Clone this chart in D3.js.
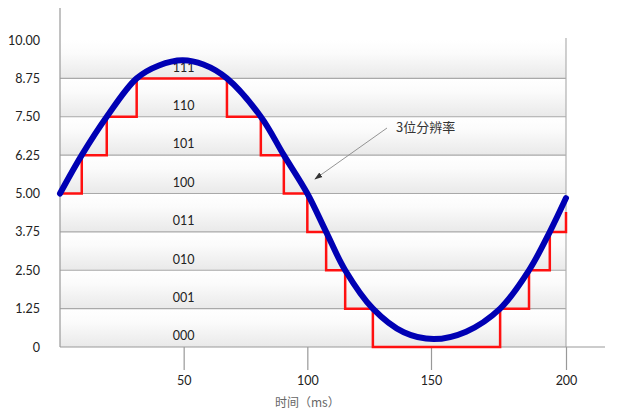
<!DOCTYPE html>
<html>
<head>
<meta charset="utf-8">
<script src="https://cdn.jsdelivr.net/npm/d3@7"></script>
<style>
  body { margin: 0; background: #fff; }
  svg { display: block; }
</style>
</head>
<body>
<svg id="chart" width="617" height="415"></svg>
<script>
// levels of the 3-bit quantizer
const levels = [0, 1.25, 2.5, 3.75, 5, 6.25, 7.5, 8.75, 10];
const yTickLabels = ["0", "1.25", "2.50", "3.75", "5.00", "6.25", "7.50", "8.75", "10.00"];
const codes = ["000", "001", "010", "011", "100", "101", "110", "111"];
const xTicks = [50, 100, 150, 200];

// analog signal (time ms, value)
const signalT = [0, 8.8, 18.9, 31, 40, 49.5, 58, 67.5, 81.2, 90.5, 100, 107.6, 115.3, 126.5, 139, 151, 163, 175.6, 186.3, 194, 200];
const signalV = [5.0, 6.25, 7.5, 8.75, 9.17, 9.34, 9.2, 8.75, 7.5, 6.25, 5.0, 3.75, 2.5, 1.25, 0.48, 0.26, 0.5, 1.25, 2.5, 3.75, 4.85];

// quantized output, step after each time
const stepT = [0, 8.8, 18.9, 31, 67.5, 81.2, 90.5, 100, 107.6, 115.3, 126.5, 175.6, 186.3, 194, 200];
const stepV = [5.0, 6.25, 7.5, 8.75, 7.5, 6.25, 5.0, 3.75, 2.5, 1.25, 0, 1.25, 2.5, 3.75, 4.4];

const svg = d3.select("#chart");
const font = "Lato, 'Open Sans', sans-serif";
const cjk = "'Noto Sans CJK SC', sans-serif";

const x = d3.scaleLinear().domain([0, 150, 200]).range([60, 431, 566]);
const y = d3.scaleLinear().domain([0, 10]).range([347, 40]);

// gradient for the bands
const defs = svg.append("defs");
const grad = defs.append("linearGradient")
  .attr("id", "band").attr("x1", 0).attr("y1", 0).attr("x2", 0).attr("y2", 1);
grad.append("stop").attr("offset", "0%").attr("stop-color", "#ffffff");
grad.append("stop").attr("offset", "35%").attr("stop-color", "#fbfbfb");
grad.append("stop").attr("offset", "100%").attr("stop-color", "#e9e9e9");

// bands
svg.append("g").selectAll("rect")
  .data(d3.range(levels.length - 1))
  .join("rect")
  .attr("x", x(0))
  .attr("width", x(200) - x(0))
  .attr("y", i => y(levels[i + 1]))
  .attr("height", i => y(levels[i]) - y(levels[i + 1]))
  .attr("fill", "url(#band)");

// gridlines
svg.append("g").selectAll("line")
  .data(levels.slice(1, -1))
  .join("line")
  .attr("x1", x(0)).attr("x2", x(200))
  .attr("y1", d => y(d)).attr("y2", d => y(d))
  .attr("stroke", "#a9a9a9").attr("stroke-width", 1.2);

// right border
svg.append("line")
  .attr("x1", x(200)).attr("x2", x(200))
  .attr("y1", y(10) - 2).attr("y2", y(0))
  .attr("stroke", "#b0b0b0").attr("stroke-width", 1.2);

// y axis
const yAxis = svg.append("g")
  .attr("transform", `translate(${x(0)},0)`)
  .call(d3.axisLeft(y).tickValues(levels).tickSize(0).tickPadding(20)
    .tickFormat((d, i) => yTickLabels[i]));
yAxis.select(".domain").remove();
yAxis.selectAll("text").attr("font-family", font).attr("font-size", 12.5).attr("fill", "#222");
svg.append("line")
  .attr("x1", x(0)).attr("x2", x(0)).attr("y1", 8).attr("y2", y(0))
  .attr("stroke", "#999").attr("stroke-width", 1.2);

// x axis
const xAxis = svg.append("g")
  .attr("transform", `translate(0,${y(0)})`)
  .call(d3.axisBottom(x).tickValues(xTicks).tickSize(23).tickPadding(6));
xAxis.select(".domain").remove();
xAxis.selectAll("line").attr("stroke", "#999").attr("stroke-width", 1.2);
xAxis.selectAll("text").attr("font-family", font).attr("font-size", 12.5).attr("fill", "#222");
svg.append("line")
  .attr("x1", x(0)).attr("x2", 605).attr("y1", y(0)).attr("y2", y(0))
  .attr("stroke", "#999").attr("stroke-width", 1.2);

svg.append("text")
  .attr("x", x(100)).attr("y", 407)
  .attr("text-anchor", "middle")
  .attr("font-family", cjk).attr("font-size", 12).attr("fill", "#666")
  .text("时间（ms）");

// code labels
svg.append("g").selectAll("text")
  .data(codes)
  .join("text")
  .attr("x", x(50))
  .attr("y", (d, i) => y(levels[i] + 0.35) + 4)
  .attr("text-anchor", "middle")
  .attr("font-family", font).attr("font-size", 12.5).attr("fill", "#222")
  .text(d => d);

// quantized steps
const steps = stepT.map((t, i) => [t, stepV[i]]);
svg.append("path")
  .datum(steps)
  .attr("fill", "none")
  .attr("stroke", "#ff1010")
  .attr("stroke-width", 2.5)
  .attr("d", d3.line().x(d => x(d[0])).y(d => y(d[1])).curve(d3.curveStepAfter));

// analog signal
const signal = signalT.map((t, i) => [t, signalV[i]]);
svg.append("path")
  .datum(signal)
  .attr("fill", "none")
  .attr("stroke", "#0000b4")
  .attr("stroke-width", 6)
  .attr("stroke-linecap", "round")
  .attr("d", d3.line().x(d => x(d[0])).y(d => y(d[1])).curve(d3.curveCatmullRom.alpha(0.5)));

// annotation
defs.append("marker")
  .attr("id", "arrow").attr("viewBox", "0 0 10 10")
  .attr("refX", 9).attr("refY", 5)
  .attr("markerWidth", 9).attr("markerHeight", 9)
  .attr("orient", "auto")
  .append("path").attr("d", "M0,1.5 L10,5 L0,8.5 Z").attr("fill", "#333");

svg.append("line")
  .attr("x1", 387).attr("y1", 128).attr("x2", 315).attr("y2", 179)
  .attr("stroke", "#888").attr("stroke-width", 0.9)
  .attr("marker-end", "url(#arrow)");

svg.append("text")
  .attr("x", 396).attr("y", 132)
  .attr("font-family", cjk).attr("font-size", 13).attr("fill", "#333")
  .text("3位分辨率");
</script>
</body>
</html>
